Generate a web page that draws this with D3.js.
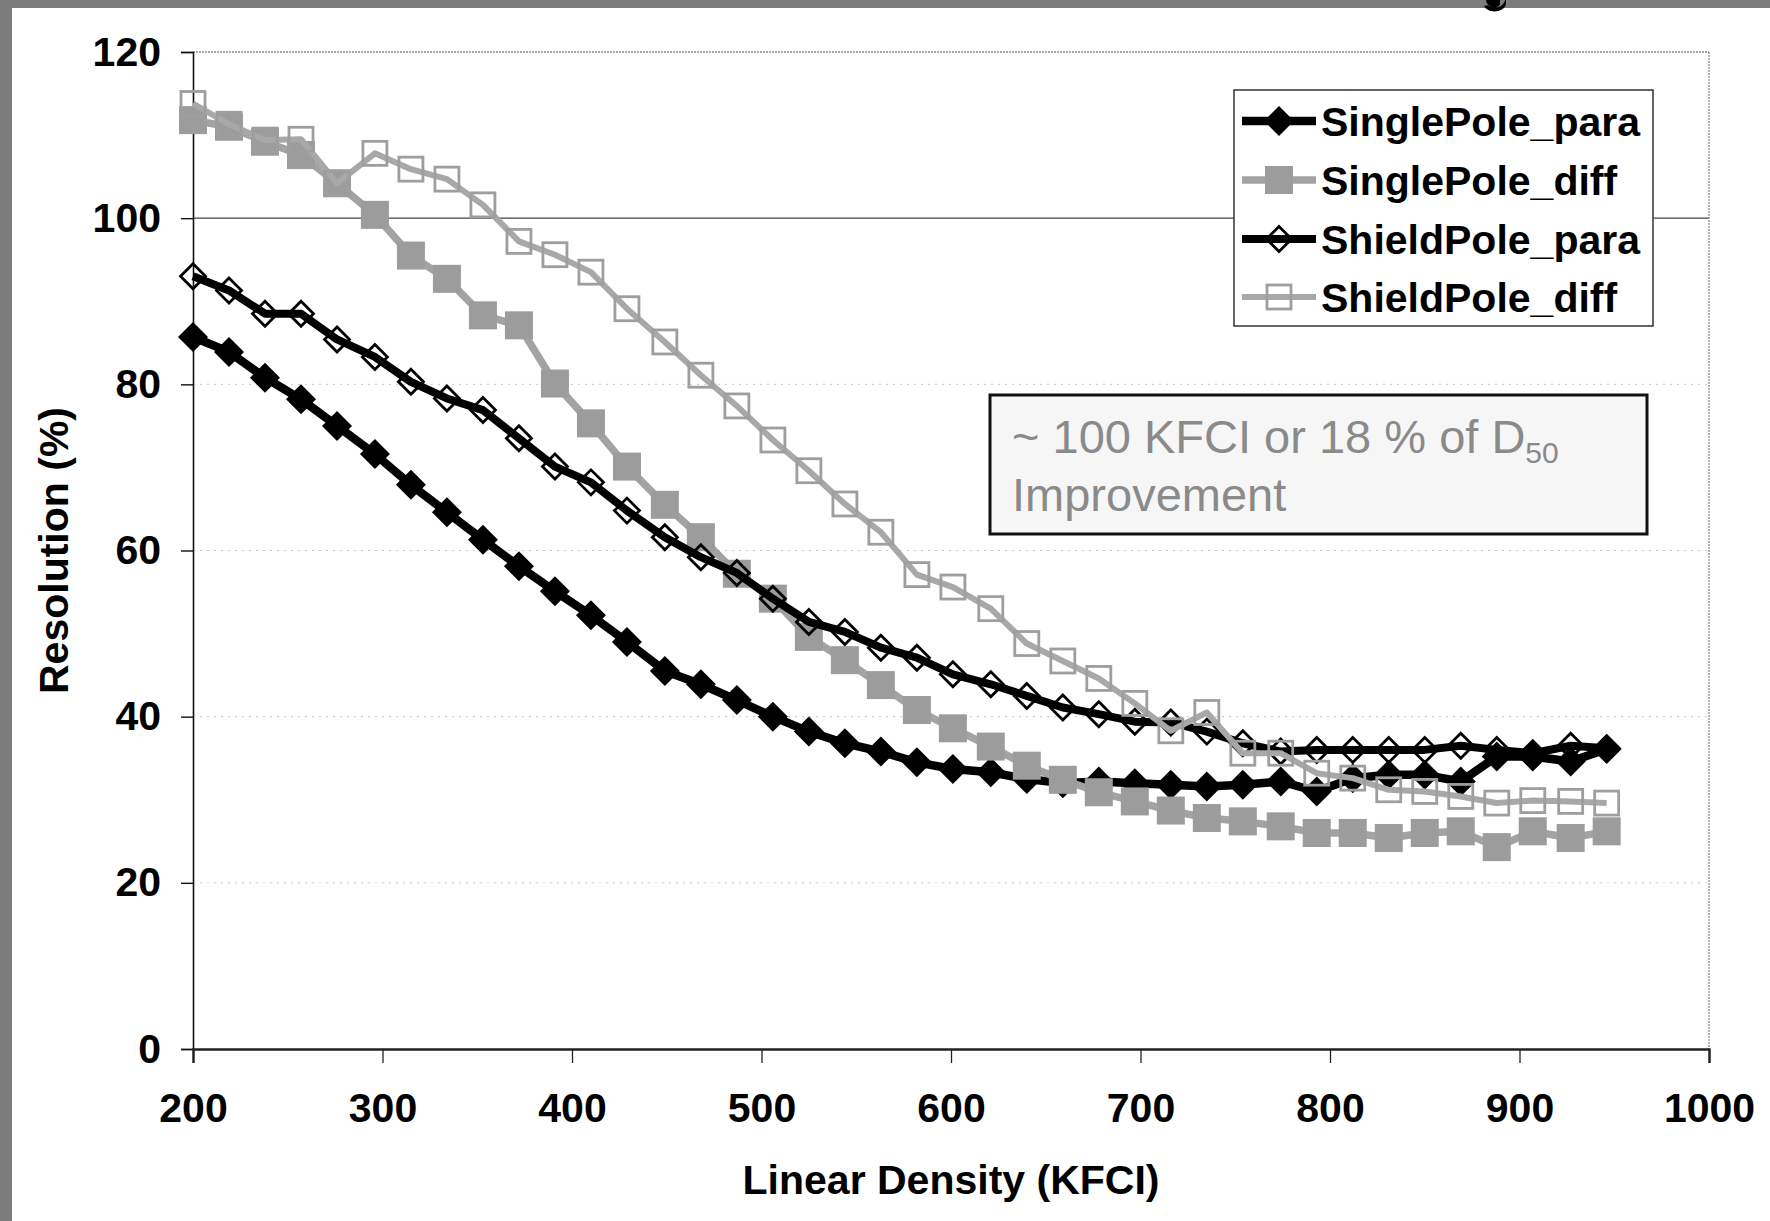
<!DOCTYPE html>
<html>
<head>
<meta charset="utf-8">
<script src="https://cdn.jsdelivr.net/npm/d3@7/dist/d3.min.js"></script>
<style>
  html, body { margin: 0; padding: 0; background: #fff; }
  svg { display: block; }
  text { font-family: "Liberation Sans", Arial, sans-serif; }
</style>
</head>
<body>
<svg id="chart" width="1770" height="1221"></svg>
<script>
// ---------------- data ----------------
const xValues = [200, 219, 238, 257, 276, 296, 315, 334, 353, 372, 391, 410, 429, 449, 468, 487, 506, 525, 544, 563,
                 582, 601, 621, 640, 659, 678, 697, 716, 735, 754, 774, 793, 812, 831, 850, 869, 888, 907, 927, 946];

const singlePolePara = [85.7, 83.9, 80.8, 78.2, 75.0, 71.6, 67.9, 64.6, 61.3, 58.1, 55.1, 52.2, 49.0, 45.5, 43.9, 42.0, 40.0, 38.2, 36.8, 35.8,
                        34.5, 33.7, 33.3, 32.5, 32.0, 32.2, 32.0, 31.8, 31.6, 31.8, 32.2, 31.0, 32.6, 33.0, 33.0, 32.2, 35.2, 35.2, 34.6, 36.1];

const singlePoleDiff = [111.8, 111.0, 109.2, 107.6, 104.2, 100.4, 95.5, 92.7, 88.3, 87.1, 80.1, 75.3, 70.1, 65.5, 61.6, 57.2, 54.2, 49.6, 46.8, 43.8,
                        40.8, 38.6, 36.4, 34.1, 32.4, 30.9, 29.8, 28.7, 27.8, 27.4, 26.8, 26.0, 26.0, 25.4, 26.0, 26.2, 24.3, 26.2, 25.4, 26.2];

const shieldPolePara = [93.0, 91.3, 88.5, 88.5, 85.4, 83.3, 80.3, 78.3, 76.9, 73.5, 70.1, 68.2, 64.8, 61.6, 59.2, 57.3, 54.2, 51.4, 50.2, 48.3,
                        47.1, 45.1, 43.9, 42.5, 41.1, 40.3, 39.4, 39.3, 38.2, 36.8, 35.8, 36.0, 36.0, 36.0, 36.0, 36.5, 36.0, 35.6, 36.5, 36.2];

const shieldPoleDiff = [113.8, 111.3, 109.4, 109.5, 104.2, 107.8, 105.9, 104.7, 101.6, 97.2, 95.6, 93.5, 89.1, 85.1, 81.1, 77.4, 73.3, 69.6, 65.6, 62.2,
                        57.1, 55.6, 53.0, 48.8, 46.7, 44.6, 41.6, 38.3, 40.5, 35.6, 35.6, 33.2, 32.6, 31.2, 31.0, 30.4, 29.6, 29.9, 29.8, 29.6];

const seriesNames = ["SinglePole_para", "SinglePole_diff", "ShieldPole_para", "ShieldPole_diff"];
const xTicks = [200, 300, 400, 500, 600, 700, 800, 900, 1000];
const yTicks = [0, 20, 40, 60, 80, 100, 120];
const xTitle = "Linear Density (KFCI)";
const yTitle = "Resolution (%)";
const noteLine1 = "~ 100 KFCI or 18 % of D";
const noteSub = "50";
const noteLine2 = "Improvement";

// ---------------- layout ----------------
const svg = d3.select("#chart");
const W = 1770, H = 1221;
const plot = { left: 193, right: 1709, top: 52, bottom: 1049 };
const FONT = '"Liberation Sans", Arial, sans-serif';

const x = d3.scaleLinear().domain([200, 1000]).range([plot.left, plot.right]);
const y = d3.scaleLinear().domain([0, 120]).range([plot.bottom, plot.top]);

// background + scanned frame
svg.append("rect").attr("x", 0).attr("y", 0).attr("width", W).attr("height", H).attr("fill", "#fff");
svg.append("rect").attr("x", 0).attr("y", 0).attr("width", W).attr("height", 8).attr("fill", "#7c7c7c");
svg.append("rect").attr("x", 0).attr("y", 0).attr("width", 12).attr("height", H).attr("fill", "#7c7c7c");
// tail of the cut-off title glyph (drawn as a shape)
svg.append("path")
  .attr("d", "M1486,0 C1487,10 1503,10 1505,0 Z M1500,0 L1506,0 L1506,4 C1504,13 1488,14 1484,6 L1489,5 C1492,9 1500,8 1500,3 Z")
  .attr("fill", "#000");

// gridlines
const gridG = svg.append("g");
yTicks.filter(t => t > 0 && t < 120).forEach(t => {
  gridG.append("line")
    .attr("x1", plot.left).attr("x2", plot.right)
    .attr("y1", y(t)).attr("y2", y(t))
    .attr("stroke", t === 100 ? "#444" : "#c8c8c8")
    .attr("stroke-width", t === 100 ? 1.4 : 1)
    .attr("stroke-dasharray", t === 100 ? null : "2,5");
});
// top and right plot border (dotted grey)
svg.append("line").attr("x1", plot.left).attr("x2", plot.right).attr("y1", y(120)).attr("y2", y(120))
  .attr("stroke", "#8a8a8a").attr("stroke-width", 1.3).attr("stroke-dasharray", "2,1");
svg.append("line").attr("x1", plot.right).attr("x2", plot.right).attr("y1", y(120)).attr("y2", plot.bottom)
  .attr("stroke", "#8a8a8a").attr("stroke-width", 1.3).attr("stroke-dasharray", "2,1");

// axes
const yAxis = d3.axisLeft(y).tickValues(yTicks).tickSize(12).tickPadding(20).tickFormat(d3.format("d"));
const yg = svg.append("g").attr("transform", `translate(${plot.left},0)`).call(yAxis);
yg.select(".domain").attr("stroke", "#111").attr("stroke-width", 1.6);
yg.selectAll(".tick line").attr("stroke", "#111").attr("stroke-width", 1.4);
yg.selectAll(".tick text").attr("font-family", FONT).attr("font-size", 41).attr("font-weight", "bold").attr("fill", "#000");

const xAxis = d3.axisBottom(x).tickValues(xTicks).tickSize(14).tickPadding(30).tickFormat(d3.format("d"));
const xg = svg.append("g").attr("transform", `translate(0,${plot.bottom})`).call(xAxis);
xg.select(".domain").attr("stroke", "#222").attr("stroke-width", 2.4);
xg.selectAll(".tick line").attr("stroke", "#222").attr("stroke-width", 1.3);
xg.selectAll(".tick text").attr("font-family", FONT).attr("font-size", 41).attr("font-weight", "bold").attr("fill", "#000");

// axis titles
svg.append("text").attr("x", (plot.left + plot.right) / 2).attr("y", 1194)
  .attr("text-anchor", "middle").attr("font-size", 41).attr("font-weight", "bold").attr("fill", "#000").text(xTitle);
svg.append("text").attr("transform", `translate(68,${(plot.top + plot.bottom) / 2}) rotate(-90)`)
  .attr("text-anchor", "middle").attr("font-size", 41).attr("font-weight", "bold").attr("fill", "#000").text(yTitle);

// ---------------- series ----------------
const diamondPath = r => `M0,${-r}L${r},0L0,${r}L${-r},0Z`;
const styles = [
  { name: seriesNames[0], vals: singlePolePara, line: "#000", lw: 8.5, shape: "diamond", size: 15, fill: "#000", stroke: "none", sw: 0 },
  { name: seriesNames[1], vals: singlePoleDiff, line: "#a3a3a3", lw: 7.5, shape: "square", size: 28, fill: "#9c9c9c", stroke: "none", sw: 0 },
  { name: seriesNames[2], vals: shieldPolePara, line: "#000", lw: 8, shape: "diamond", size: 12.5, fill: "none", stroke: "#000", sw: 2.8 },
  { name: seriesNames[3], vals: shieldPoleDiff, line: "#a8a8a8", lw: 6, shape: "square", size: 24, fill: "none", stroke: "#9e9e9e", sw: 2.8 }
];

const lineGen = d3.line().x(d => x(d[0])).y(d => y(d[1]));

function drawMarker(g, s, cx, cy) {
  if (s.shape === "diamond") {
    g.append("path").attr("d", diamondPath(s.size)).attr("transform", `translate(${cx},${cy})`)
      .attr("fill", s.fill).attr("stroke", s.stroke).attr("stroke-width", s.sw);
  } else {
    g.append("rect").attr("x", cx - s.size / 2).attr("y", cy - s.size / 2)
      .attr("width", s.size).attr("height", s.size)
      .attr("fill", s.fill).attr("stroke", s.stroke).attr("stroke-width", s.sw);
  }
}

styles.forEach(s => {
  const pts = xValues.map((xv, i) => [xv, s.vals[i]]);
  const g = svg.append("g");
  g.append("path").datum(pts).attr("d", lineGen).attr("fill", "none")
    .attr("stroke", s.line).attr("stroke-width", s.lw).attr("stroke-linejoin", "round");
  pts.forEach(p => drawMarker(g, s, x(p[0]), y(p[1])));
});

// ---------------- legend ----------------
const lg = svg.append("g");
lg.append("rect").attr("x", 1234).attr("y", 90).attr("width", 419).attr("height", 236)
  .attr("fill", "#fff").attr("stroke", "#333").attr("stroke-width", 1.5);
const legendY = [121, 180, 239, 297];
styles.forEach((s, i) => {
  const ly = legendY[i];
  lg.append("line").attr("x1", 1242).attr("x2", 1316).attr("y1", ly).attr("y2", ly)
    .attr("stroke", s.line).attr("stroke-width", s.lw);
  drawMarker(lg, s, 1279, ly);
  lg.append("text").attr("x", 1321).attr("y", ly + 15).attr("font-size", 41).attr("font-weight", "bold")
    .attr("fill", "#000").text(s.name);
});

// ---------------- annotation ----------------
const ng = svg.append("g");
ng.append("rect").attr("x", 990).attr("y", 395).attr("width", 657).attr("height", 139)
  .attr("fill", "#f6f6f6").attr("stroke", "#111").attr("stroke-width", 3);
const t1 = ng.append("text").attr("x", 1012).attr("y", 453).attr("font-size", 47).attr("fill", "#8a8a8a");
t1.append("tspan").text(noteLine1);
t1.append("tspan").attr("font-size", 30).attr("dy", 10).text(noteSub);
ng.append("text").attr("x", 1012).attr("y", 511).attr("font-size", 47).attr("fill", "#8a8a8a").text(noteLine2);
</script>
</body>
</html>
